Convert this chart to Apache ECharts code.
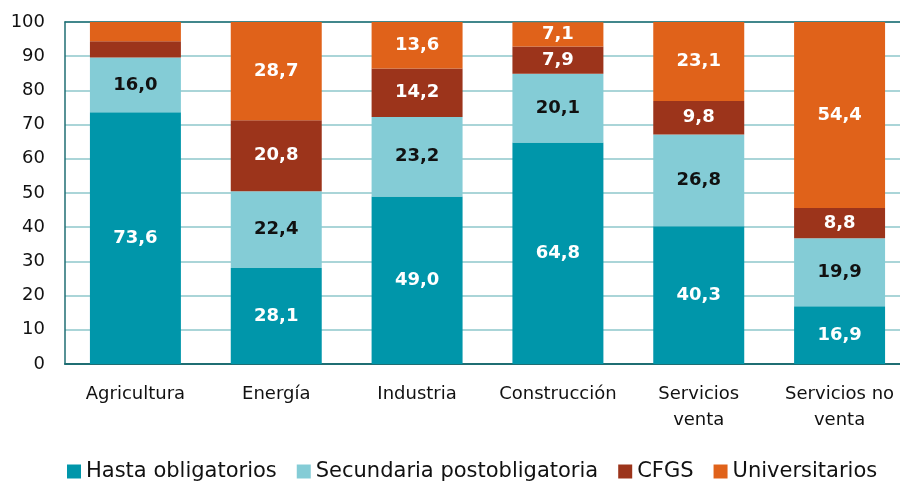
<!DOCTYPE html>
<html><head><meta charset="utf-8">
<script src="https://cdn.jsdelivr.net/npm/echarts@6/dist/echarts.min.js"></script>
<style>html,body{margin:0;padding:0;background:#fff;overflow:hidden}#c{width:912px;height:482px}</style>
</head><body><div id="c"></div>
<script>
var categories = ['Agricultura', 'Energía', 'Industria', 'Construcción', 'Servicios\nventa', 'Servicios no\nventa'];
var hastaObligatorios = [73.6, 28.1, 49.0, 64.8, 40.3, 16.9];
var secundariaPost = [16.0, 22.4, 23.2, 20.1, 26.8, 19.9];
var cfgs = [4.8, 20.8, 14.2, 7.9, 9.8, 8.8];
var universitarios = [5.6, 28.7, 13.6, 7.1, 23.1, 54.4];
var seriesNames = ['Hasta obligatorios', 'Secundaria postobligatoria', 'CFGS', 'Universitarios'];
var colors = ['#0096AA', '#84CCD6', '#9C341B', '#E0621A'];
var labelColors = ['#ffffff', '#111111', '#ffffff', '#ffffff'];
var FONT = 'DejaVu Sans';

function mk(name, vals, i) {
  return {
    name: name, type: 'bar', stack: 'a', barWidth: '64.6%',
    itemStyle: { color: colors[i] },
    data: vals.map(function (v) {
      return { value: v, label: { show: v >= 6 } };
    }),
    label: {
      show: true, position: 'inside', color: labelColors[i],
      fontFamily: FONT, fontSize: 18, fontWeight: 'bold',
      formatter: function (p) { return p.value.toFixed(1).replace('.', ','); }
    }
  };
}
var chart = echarts.init(document.getElementById('c'));
chart.setOption({
  animation: false,
  color: colors,
  grid: { left: 65, width: 845, top: 22, bottom: 118 },
  legend: {
    top: 456, left: 62, itemWidth: 14, itemHeight: 14, itemGap: 20,
    icon: 'rect',
    textStyle: { fontFamily: FONT, fontSize: 21, color: '#111' },
    data: seriesNames
  },
  xAxis: [{
    type: 'category', data: categories,
    axisLine: { lineStyle: { color: '#1f6e73', width: 2 } },
    axisTick: { show: false },
    axisLabel: { interval: 0, fontFamily: FONT, fontSize: 18, color: '#111', margin: 17, lineHeight: 26 }
  }, {
    type: 'category', data: categories, position: 'top',
    axisLine: { lineStyle: { color: '#1f6e73', width: 1.5 } },
    axisTick: { show: false }, axisLabel: { show: false }
  }],
  yAxis: {
    type: 'value', min: 0, max: 100, interval: 10,
    axisLine: { show: true, lineStyle: { color: '#1f6e73', width: 1.5 } },
    axisTick: { show: false },
    splitLine: { lineStyle: { color: '#8ec7cb', width: 1.5 } },
    axisLabel: { fontFamily: FONT, fontSize: 18, color: '#111', margin: 20 }
  },
  series: [
    mk(seriesNames[0], hastaObligatorios, 0),
    mk(seriesNames[1], secundariaPost, 1),
    mk(seriesNames[2], cfgs, 2),
    mk(seriesNames[3], universitarios, 3)
  ]
});
</script></body></html>
